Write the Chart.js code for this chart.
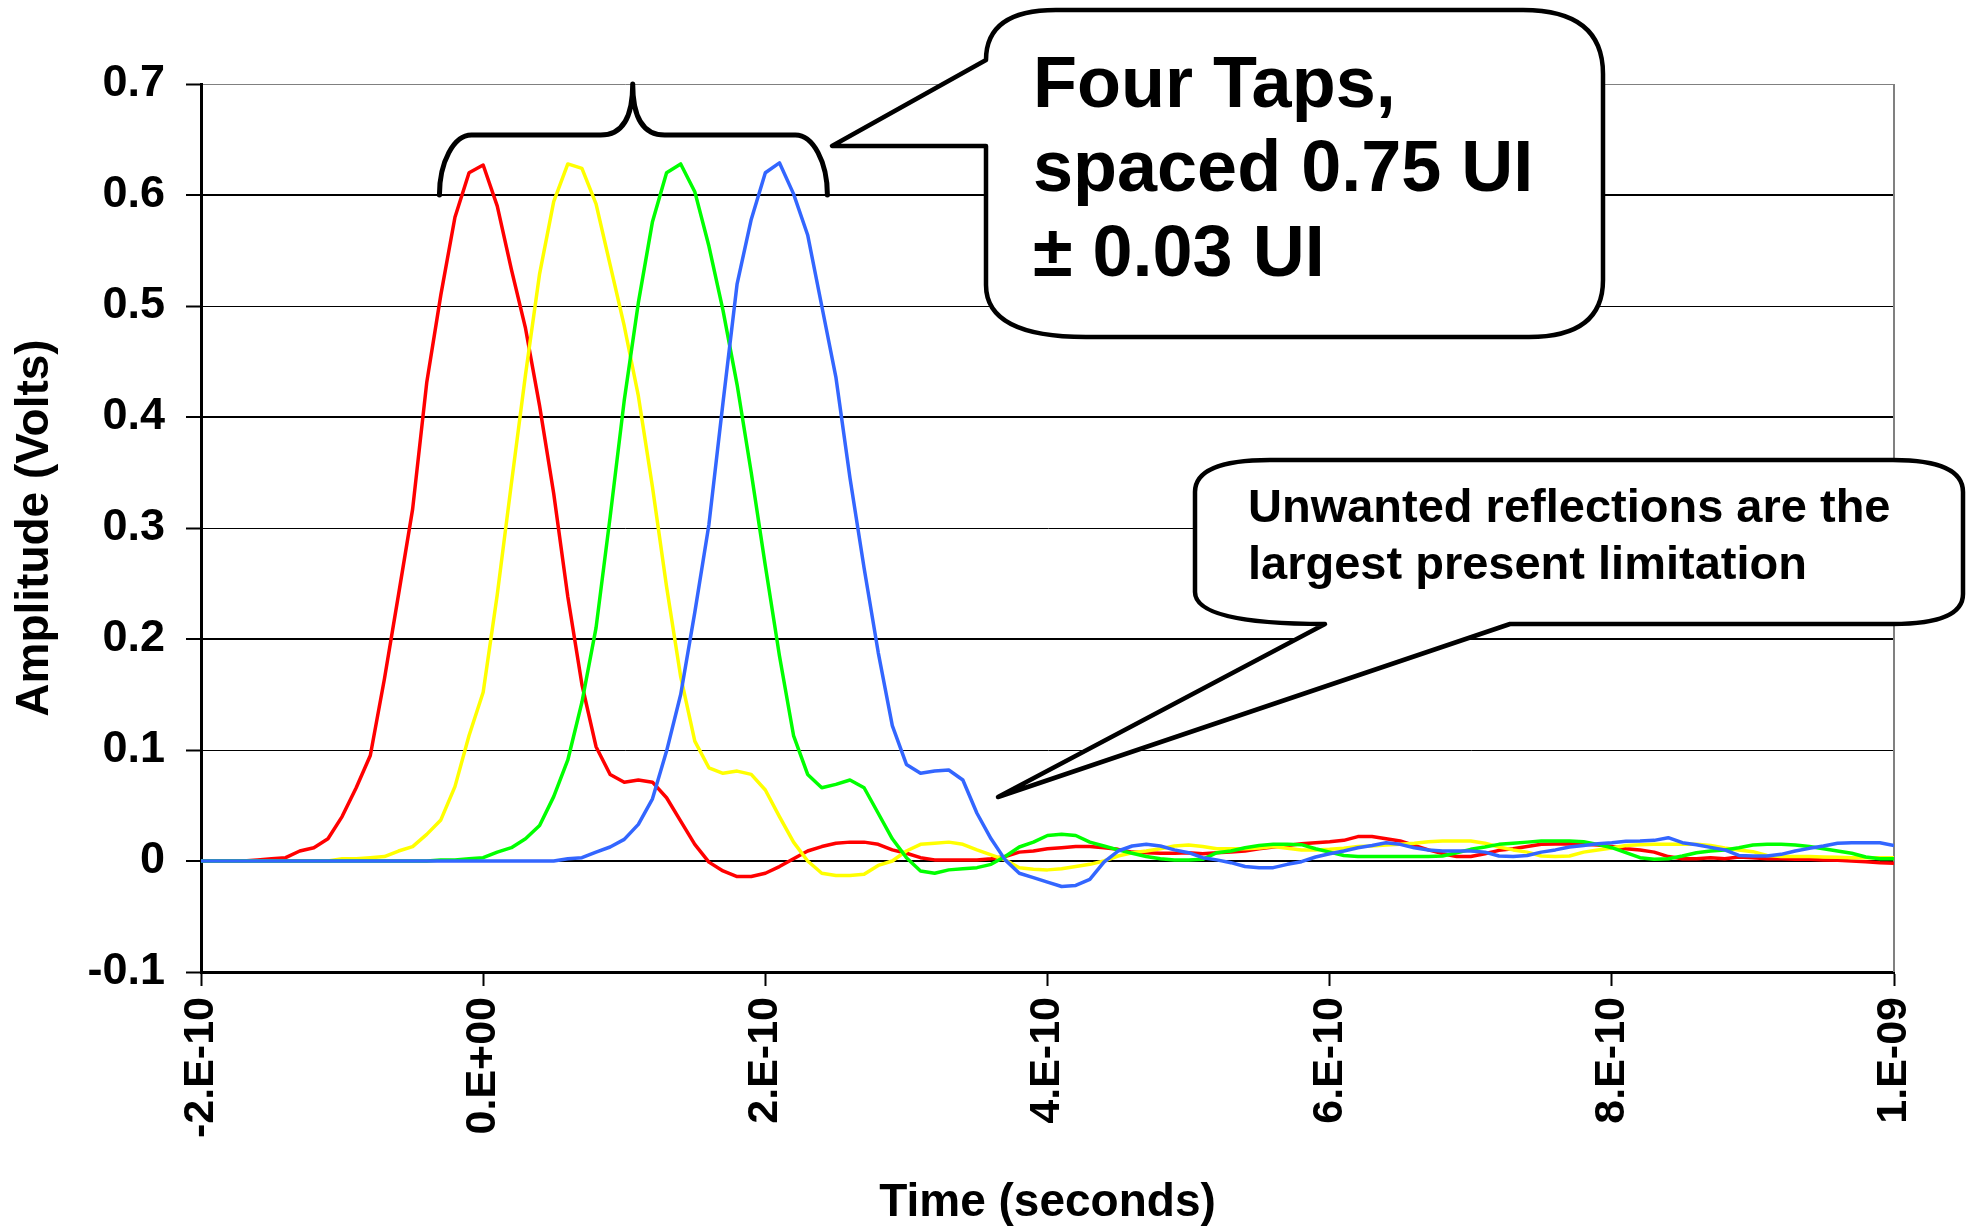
<!DOCTYPE html>
<html>
<head>
<meta charset="utf-8">
<title>Four Taps</title>
<script src="https://cdn.jsdelivr.net/npm/chart.js@4.4.1/dist/chart.umd.min.js"></script>
<style>
  html, body { margin: 0; padding: 0; background: #fff; }
  #wrap { width: 1971px; height: 1228px; }
</style>
</head>
<body>
<div id="wrap"><canvas id="grafico" width="1971" height="1228"></canvas></div>
<script>
// Tempo em picossegundos (eixo x mostra em segundos)
const tempoPs = [
  -200, -190, -180, -170, -160, -150, -140, -130, -120, -110,
  -100, -90, -80, -70, -60, -50, -40, -30, -20, -10,
  0, 10, 20, 30, 40, 50, 60, 70, 80, 90,
  100, 110, 120, 130, 140, 150, 160, 170, 180, 190,
  200, 210, 220, 230, 240, 250, 260, 270, 280, 290,
  300, 310, 320, 330, 340, 350, 360, 370, 380, 390,
  400, 410, 420, 430, 440, 450, 460, 470, 480, 490,
  500, 510, 520, 530, 540, 550, 560, 570, 580, 590,
  600, 610, 620, 630, 640, 650, 660, 670, 680, 690,
  700, 710, 720, 730, 740, 750, 760, 770, 780, 790,
  800, 810, 820, 830, 840, 850, 860, 870, 880, 890,
  900, 910, 920, 930, 940, 950, 960, 970, 980, 990,
  1000
];

// Amplitude (Volts) de cada tap
const tapVermelho = [
  0, 0, 0, 0, 0.001, 0.002, 0.003, 0.009, 0.012, 0.02,
  0.04, 0.066, 0.095, 0.164, 0.24, 0.317, 0.431, 0.51, 0.58, 0.62,
  0.627, 0.59, 0.533, 0.48, 0.41, 0.331, 0.238, 0.159, 0.103, 0.078,
  0.071, 0.073, 0.071, 0.057, 0.036, 0.015, -0.001, -0.009, -0.014, -0.014,
  -0.011, -0.005, 0.002, 0.009, 0.013, 0.016, 0.017, 0.017, 0.015, 0.01,
  0.007, 0.003, 0.001, 0.001, 0.001, 0.001, 0.002, 0.004, 0.008, 0.009,
  0.011, 0.012, 0.013, 0.013, 0.012, 0.0105, 0.008, 0.0075, 0.007, 0.007,
  0.0075, 0.0066, 0.0075, 0.008, 0.009, 0.011, 0.0126, 0.014, 0.0156, 0.0165,
  0.0174, 0.0186, 0.022, 0.022, 0.02, 0.018, 0.014, 0.01, 0.0066, 0.004,
  0.004, 0.0066, 0.0096, 0.011, 0.013, 0.015, 0.0153, 0.0156, 0.015, 0.0144,
  0.013, 0.011, 0.01, 0.008, 0.004, 0.002, 0.002, 0.003, 0.002, 0.0036,
  0.003, 0.002, 0.002, 0.0015, 0.0015, 0.001, 0.0006, 0, -0.0006, -0.0015,
  -0.002
];
const tapAmarelo = [
  0, 0, 0, 0, 0, 0, 0, 0, 0, 0,
  0.002, 0.002, 0.003, 0.004, 0.009, 0.013, 0.024, 0.037, 0.067, 0.113,
  0.152, 0.24, 0.34, 0.438, 0.529, 0.594, 0.628, 0.624, 0.592, 0.537,
  0.482, 0.419, 0.337, 0.247, 0.166, 0.108, 0.084, 0.079, 0.081, 0.078,
  0.064, 0.04, 0.017, 0, -0.011, -0.013, -0.013, -0.012, -0.004, 0,
  0.009, 0.015, 0.016, 0.017, 0.015, 0.01, 0.0056, 0.001, -0.006, -0.0075,
  -0.008, -0.007, -0.005, -0.003, 0, 0.0045, 0.0075, 0.009, 0.011, 0.0135,
  0.0144, 0.013, 0.011, 0.011, 0.011, 0.0117, 0.013, 0.0114, 0.01, 0.01,
  0.0105, 0.0114, 0.013, 0.0135, 0.0144, 0.015, 0.016, 0.0174, 0.018, 0.018,
  0.018, 0.016, 0.0126, 0.01, 0.008, 0.0045, 0.004, 0.0045, 0.008, 0.01,
  0.0117, 0.014, 0.0147, 0.015, 0.015, 0.015, 0.015, 0.014, 0.0117, 0.01,
  0.0084, 0.005, 0.004, 0.004, 0.004, 0.0036, 0.0033, 0.003, 0.003, 0.003,
  0.003
];
const tapVerde = [
  0, 0, 0, 0, 0, 0, 0, 0, 0, 0,
  0, 0, 0, 0, 0, 0, 0, 0.001, 0.001, 0.002,
  0.003, 0.008, 0.012, 0.02, 0.032, 0.058, 0.091, 0.143, 0.21, 0.31,
  0.415, 0.503, 0.576, 0.62, 0.628, 0.603, 0.554, 0.496, 0.429, 0.35,
  0.266, 0.185, 0.113, 0.078, 0.066, 0.069, 0.073, 0.066, 0.043, 0.02,
  0.003, -0.009, -0.011, -0.008, -0.007, -0.006, -0.003, 0.004, 0.0126, 0.017,
  0.023, 0.024, 0.023, 0.017, 0.0135, 0.01, 0.007, 0.004, 0.002, 0.001,
  0.001, 0.0015, 0.0075, 0.009, 0.012, 0.014, 0.015, 0.015, 0.0147, 0.011,
  0.008, 0.005, 0.004, 0.004, 0.004, 0.004, 0.004, 0.004, 0.0045, 0.0075,
  0.0105, 0.0126, 0.015, 0.016, 0.017, 0.018, 0.018, 0.018, 0.0174, 0.015,
  0.012, 0.0075, 0.003, 0.0015, 0.002, 0.0045, 0.0075, 0.009, 0.01, 0.012,
  0.0144, 0.015, 0.015, 0.0144, 0.013, 0.011, 0.009, 0.007, 0.0036, 0.002,
  0.002
];
const tapAzul = [
  0, 0, 0, 0, 0, 0, 0, 0, 0, 0,
  0, 0, 0, 0, 0, 0, 0, 0, 0, 0,
  0, 0, 0, 0, 0, 0, 0.002, 0.003, 0.008, 0.0126,
  0.0195, 0.033, 0.056, 0.099, 0.15, 0.224, 0.303, 0.413, 0.52, 0.578,
  0.62, 0.629, 0.601, 0.564, 0.5, 0.436, 0.345, 0.264, 0.188, 0.122,
  0.087, 0.079, 0.081, 0.082, 0.073, 0.043, 0.02, 0.001, -0.011, -0.015,
  -0.019, -0.023, -0.022, -0.0165, -0.001, 0.009, 0.0135, 0.015, 0.0135, 0.01,
  0.0075, 0.003, 0.001, -0.0015, -0.005, -0.006, -0.006, -0.003, -0.0006, 0.0036,
  0.0066, 0.009, 0.012, 0.014, 0.0165, 0.015, 0.012, 0.01, 0.009, 0.009,
  0.009, 0.008, 0.0045, 0.004, 0.005, 0.008, 0.01, 0.0126, 0.014, 0.0156,
  0.0165, 0.0177, 0.018, 0.0186, 0.021, 0.0165, 0.0147, 0.0123, 0.01, 0.005,
  0.0045, 0.0045, 0.006, 0.009, 0.0114, 0.0135, 0.016, 0.0165, 0.0165, 0.0165,
  0.014
];

const fonte = '"Liberation Sans", Arial, sans-serif';

function pontos(serie) {
  return tempoPs.map((t, i) => ({ x: t, y: serie[i] }));
}

// formato do Excel "0.E+00"
function rotuloTempo(ps) {
  if (Math.abs(ps) < 1e-6) return '0.E+00';
  const [m, e] = (ps * 1e-12).toExponential(0).split('e');
  const exp = Number(e);
  return m + '.E' + (exp < 0 ? '-' : '+') + String(Math.abs(exp)).padStart(2, '0');
}

function rotuloVolts(v) {
  return Math.abs(v) < 1e-9 ? '0' : v.toFixed(1);
}

// chave sobre os picos e os dois balões
const anotacoes = {
  id: 'anotacoes',
  beforeDatasetsDraw(chart) {
    const { ctx, chartArea: a } = chart;
    ctx.save();
    ctx.strokeStyle = '#808080';
    ctx.lineWidth = 2;
    ctx.beginPath();
    ctx.moveTo(a.right, a.top);
    ctx.lineTo(a.right, a.bottom);
    ctx.stroke();
    ctx.restore();
  },
  afterDraw(chart) {
    const { ctx } = chart;
    const sx = chart.scales.x, sy = chart.scales.y;
    ctx.save();
    ctx.lineJoin = 'round';
    ctx.lineCap = 'round';
    ctx.strokeStyle = '#000';

    // chave
    const xl = sx.getPixelForValue(-31), xr = sx.getPixelForValue(244), xc = sx.getPixelForValue(106);
    const yb = sy.getPixelForValue(0.6), yh = sy.getPixelForValue(0.654), yt = sy.getPixelForValue(0.7);
    const r = 32, k = 0.55;
    ctx.lineWidth = 5;
    ctx.beginPath();
    ctx.moveTo(xl, yb);
    ctx.bezierCurveTo(xl, yb - k * (yb - yh), xl + r - k * r, yh, xl + r, yh);
    ctx.lineTo(xc - r, yh);
    ctx.quadraticCurveTo(xc, yh, xc, yt);
    ctx.quadraticCurveTo(xc, yh, xc + r, yh);
    ctx.lineTo(xr - r, yh);
    ctx.bezierCurveTo(xr - r + k * r, yh, xr, yb - k * (yb - yh), xr, yb);
    ctx.stroke();

    // balão grande
    ctx.lineWidth = 4.5;
    ctx.fillStyle = '#fff';
    let L = 986, R = 1603, T = 10, B = 337;
    ctx.beginPath();
    ctx.moveTo(L, 146);
    ctx.lineTo(L, B - 52);
    ctx.quadraticCurveTo(L, B, L + 100, B);
    ctx.lineTo(R - 74, B);
    ctx.quadraticCurveTo(R, B, R, B - 57);
    ctx.lineTo(R, T + 64);
    ctx.quadraticCurveTo(R, T, R - 80, T);
    ctx.lineTo(L + 70, T);
    ctx.quadraticCurveTo(L, T, L, 60);
    ctx.lineTo(832, 146);
    ctx.closePath();
    ctx.fill();
    ctx.stroke();

    ctx.fillStyle = '#000';
    ctx.textAlign = 'left';
    ctx.textBaseline = 'alphabetic';
    ctx.font = 'bold 72px ' + fonte;
    ctx.fillText('Four Taps,', 1033, 107);
    ctx.fillText('spaced 0.75 UI', 1033, 191);
    ctx.fillText('\u00B1 0.03 UI', 1033, 276);

    // balão pequeno
    L = 1195; R = 1963; T = 460; B = 624;
    ctx.fillStyle = '#fff';
    ctx.beginPath();
    ctx.moveTo(L, T + 32);
    ctx.quadraticCurveTo(L, T, L + 75, T);
    ctx.lineTo(R - 70, T);
    ctx.quadraticCurveTo(R, T, R, T + 32);
    ctx.lineTo(R, B - 30);
    ctx.quadraticCurveTo(R, B, R - 70, B);
    ctx.lineTo(1510, B);
    ctx.lineTo(998, 797);
    ctx.lineTo(1325, B);
    ctx.quadraticCurveTo(L, B, L, B - 32);
    ctx.closePath();
    ctx.fill();
    ctx.stroke();

    ctx.fillStyle = '#000';
    ctx.font = 'bold 47px ' + fonte;
    ctx.fillText('Unwanted reflections are the', 1248, 522);
    ctx.fillText('largest present limitation', 1248, 579);
    ctx.restore();
  }
};

const estiloLinha = { borderWidth: 3.5, pointRadius: 0, tension: 0, fill: false, borderJoinStyle: 'round' };

new Chart(document.getElementById('grafico'), {
  type: 'line',
  data: {
    datasets: [
      { ...estiloLinha, label: 'Tap 1', data: pontos(tapVermelho), borderColor: '#FF0000', order: 4 },
      { ...estiloLinha, label: 'Tap 2', data: pontos(tapAmarelo), borderColor: '#FFFF00', order: 3 },
      { ...estiloLinha, label: 'Tap 3', data: pontos(tapVerde), borderColor: '#00FF00', order: 2 },
      { ...estiloLinha, label: 'Tap 4', data: pontos(tapAzul), borderColor: '#3366FF', order: 1 }
    ]
  },
  options: {
    responsive: false,
    animation: false,
    devicePixelRatio: 1,
    layout: { padding: { top: 84, right: 77, bottom: 0, left: 0 } },
    plugins: { legend: { display: false }, tooltip: { enabled: false } },
    scales: {
      x: {
        type: 'linear',
        min: -200,
        max: 1000,
        afterFit: s => { s.height = 256; },
        ticks: {
          stepSize: 200,
          autoSkip: false,
          minRotation: 90,
          maxRotation: 90,
          padding: 11,
          color: '#000',
          font: { family: fonte, size: 43, weight: 'bold' },
          callback: v => rotuloTempo(v)
        },
        grid: { drawOnChartArea: false, drawTicks: true, tickLength: 14, tickColor: '#000', tickWidth: 2 },
        border: { color: '#000', width: 3 },
        title: {
          display: true,
          text: 'Time (seconds)',
          color: '#000',
          font: { family: fonte, size: 46, weight: 'bold', lineHeight: 1 },
          padding: { top: 0, bottom: 2 }
        }
      },
      y: {
        min: -0.1,
        max: 0.7,
        afterFit: s => { s.width = 201; },
        ticks: {
          stepSize: 0.1,
          padding: 21,
          color: '#000',
          font: { family: fonte, size: 45, weight: 'bold' },
          callback: v => rotuloVolts(v)
        },
        grid: {
          color: c => (c.tick && c.tick.value > 0.65 ? '#808080' : '#000'),
          lineWidth: c => (c.tick && Math.round(c.tick.value * 10) % 2 === 0 ? 2 : 1),
          tickColor: '#000',
          tickWidth: 2,
          tickLength: 15
        },
        border: { color: '#000', width: 3 },
        title: {
          display: true,
          text: 'Amplitude (Volts)',
          color: '#000',
          font: { family: fonte, size: 46, weight: 'bold', lineHeight: 1 },
          padding: { top: 12, bottom: 0 }
        }
      }
    }
  },
  plugins: [anotacoes]
});
</script>
</body>
</html>
